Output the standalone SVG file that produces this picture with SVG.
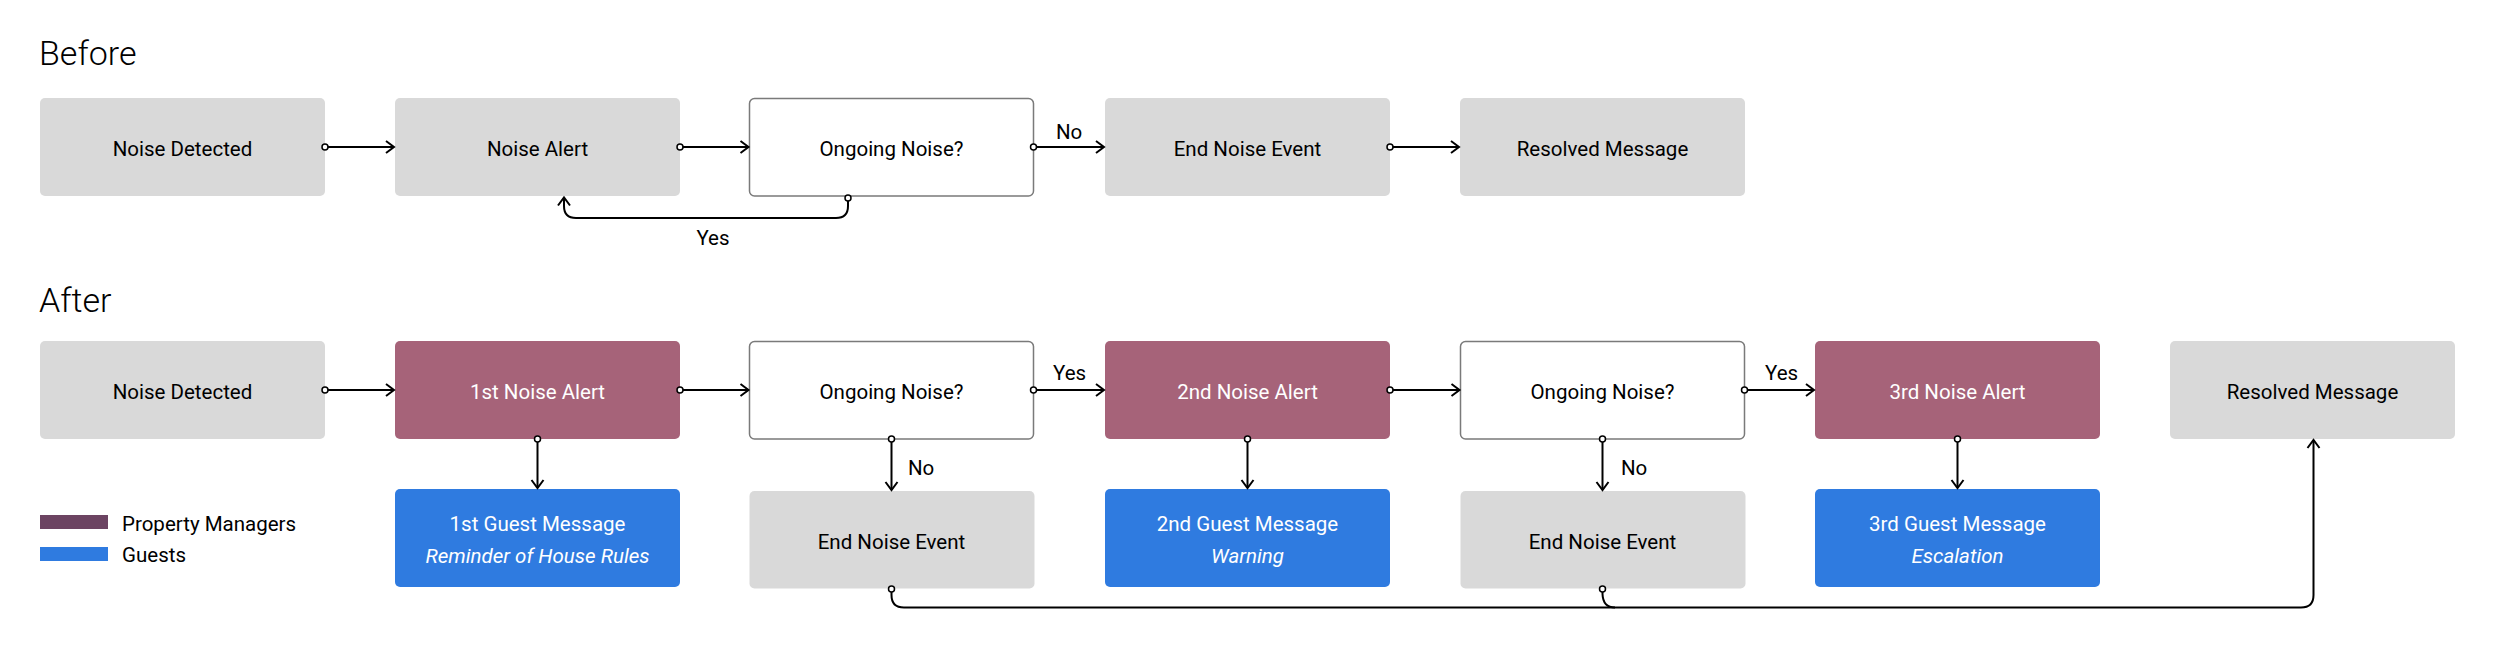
<svg xmlns="http://www.w3.org/2000/svg" width="2500" height="666" viewBox="0 0 2500 666">
<style>
text{font-family:Roboto,"Liberation Sans",sans-serif;font-size:20.5px;fill:#000}
.title{font-size:34px;font-weight:300}
.c{text-anchor:middle}
.w{fill:#fff}
.i{font-style:italic}
.gray{fill:#D9D9D9}
.dec{fill:#fff;stroke:#7a7a7a;stroke-width:1.5}
.pm{fill:#A66379}
.gu{fill:#2F7BE0}
.ln{fill:none;stroke:#000;stroke-width:2;marker-start:url(#dot);marker-end:url(#arr)}
.ln2{fill:none;stroke:#000;stroke-width:2;marker-start:url(#dot)}
</style>
<defs>
<marker id="arr" markerUnits="userSpaceOnUse" markerWidth="20" markerHeight="20" viewBox="-10 -10 20 20" refX="0" refY="0" orient="auto"><path d="M-8,-6 L0,0 L-8,6" fill="none" stroke="#000" stroke-width="2"/></marker>
<marker id="dot" markerUnits="userSpaceOnUse" markerWidth="10" markerHeight="10" viewBox="-5 -5 10 10" refX="0" refY="0"><circle r="3" fill="#fff" stroke="#000" stroke-width="1.5"/></marker>
</defs>
<rect width="2500" height="666" fill="#fff"/>
<text class="title" x="39" y="65">Before</text>
<text class="title" x="39" y="312">After</text>

<g id="b-noise-detected"><rect class="gray" x="40" y="98" width="285" height="98" rx="5"/><text class="c" x="182.5" y="156">Noise Detected</text></g>
<g id="b-noise-alert"><rect class="gray" x="395" y="98" width="285" height="98" rx="5"/><text class="c" x="537.5" y="156">Noise Alert</text></g>
<g id="b-ongoing"><rect class="dec" x="749.5" y="98.5" width="284" height="97.5" rx="5"/><text class="c" x="891.5" y="156">Ongoing Noise?</text></g>
<g id="b-end"><rect class="gray" x="1105" y="98" width="285" height="98" rx="5"/><text class="c" x="1247.5" y="156">End Noise Event</text></g>
<g id="b-resolved"><rect class="gray" x="1460" y="98" width="285" height="98" rx="5"/><text class="c" x="1602.5" y="156">Resolved Message</text></g>

<g id="a-noise-detected"><rect class="gray" x="40" y="341" width="285" height="98" rx="5"/><text class="c" x="182.5" y="399">Noise Detected</text></g>
<g id="a-alert1"><rect class="pm" x="395" y="341" width="285" height="98" rx="5"/><text class="c w" x="537.5" y="399">1st Noise Alert</text></g>
<g id="a-ongoing1"><rect class="dec" x="749.5" y="341.5" width="284" height="97.5" rx="5"/><text class="c" x="891.5" y="399">Ongoing Noise?</text></g>
<g id="a-alert2"><rect class="pm" x="1105" y="341" width="285" height="98" rx="5"/><text class="c w" x="1247.5" y="399">2nd Noise Alert</text></g>
<g id="a-ongoing2"><rect class="dec" x="1460.5" y="341.5" width="284" height="97.5" rx="5"/><text class="c" x="1602.5" y="399">Ongoing Noise?</text></g>
<g id="a-alert3"><rect class="pm" x="1815" y="341" width="285" height="98" rx="5"/><text class="c w" x="1957.5" y="399">3rd Noise Alert</text></g>
<g id="a-resolved"><rect class="gray" x="2170" y="341" width="285" height="98" rx="5"/><text class="c" x="2312.5" y="399">Resolved Message</text></g>

<g id="a-msg1"><rect class="gu" x="395" y="489" width="285" height="98" rx="5"/><text class="c w" x="537.5" y="531">1st Guest Message</text><text class="c w i" x="537.5" y="562.5">Reminder of House Rules</text></g>
<g id="a-end1"><rect class="gray" x="749.5" y="491" width="285" height="97.5" rx="5"/><text class="c" x="891.5" y="549">End Noise Event</text></g>
<g id="a-msg2"><rect class="gu" x="1105" y="489" width="285" height="98" rx="5"/><text class="c w" x="1247.5" y="531">2nd Guest Message</text><text class="c w i" x="1247.5" y="562.5">Warning</text></g>
<g id="a-end2"><rect class="gray" x="1460.5" y="491" width="285" height="97.5" rx="5"/><text class="c" x="1602.5" y="549">End Noise Event</text></g>
<g id="a-msg3"><rect class="gu" x="1815" y="489" width="285" height="98" rx="5"/><text class="c w" x="1957.5" y="531">3rd Guest Message</text><text class="c w i" x="1957.5" y="562.5">Escalation</text></g>

<g id="legend">
<rect x="40" y="515" width="68" height="14" fill="#6C4462"/>
<text x="122" y="530.5">Property Managers</text>
<rect x="40" y="547" width="68" height="14" fill="#2F7BE0"/>
<text x="122" y="562">Guests</text>
</g>

<g id="connectors">
<path class="ln" d="M325,147 H394"/>
<path class="ln" d="M680,147 H748.5"/>
<path class="ln" d="M1033.5,147 H1104"/>
<path class="ln" d="M1390,147 H1459"/>
<path class="ln" d="M848,198 V206 Q848,218 836,218 H576 Q564,218 564,206 V197.5"/>

<path class="ln" d="M325,390 H394"/>
<path class="ln" d="M680,390 H748.5"/>
<path class="ln" d="M1033.5,390 H1104"/>
<path class="ln" d="M1390,390 H1459.5"/>
<path class="ln" d="M1744.5,390 H1814"/>

<path class="ln" d="M537.5,439 V488"/>
<path class="ln" d="M891.5,439 V490"/>
<path class="ln" d="M1247.5,439 V488"/>
<path class="ln" d="M1602.5,439 V490"/>
<path class="ln" d="M1957.5,439 V488"/>

<path class="ln" d="M891.5,589 V595 Q891.5,607.5 904,607.5 H2301 Q2313.5,607.5 2313.5,595 V440"/>
<path class="ln2" d="M1602.5,589 V594 Q1603,607.5 1615,607.5"/>
</g>
<g id="labels">
<text class="c" x="713" y="245">Yes</text>
<text x="1056" y="139">No</text>
<text x="1053" y="380">Yes</text>
<text x="1765" y="380">Yes</text>
<text x="908" y="475">No</text>
<text x="1621" y="475">No</text>
</g>
</svg>
